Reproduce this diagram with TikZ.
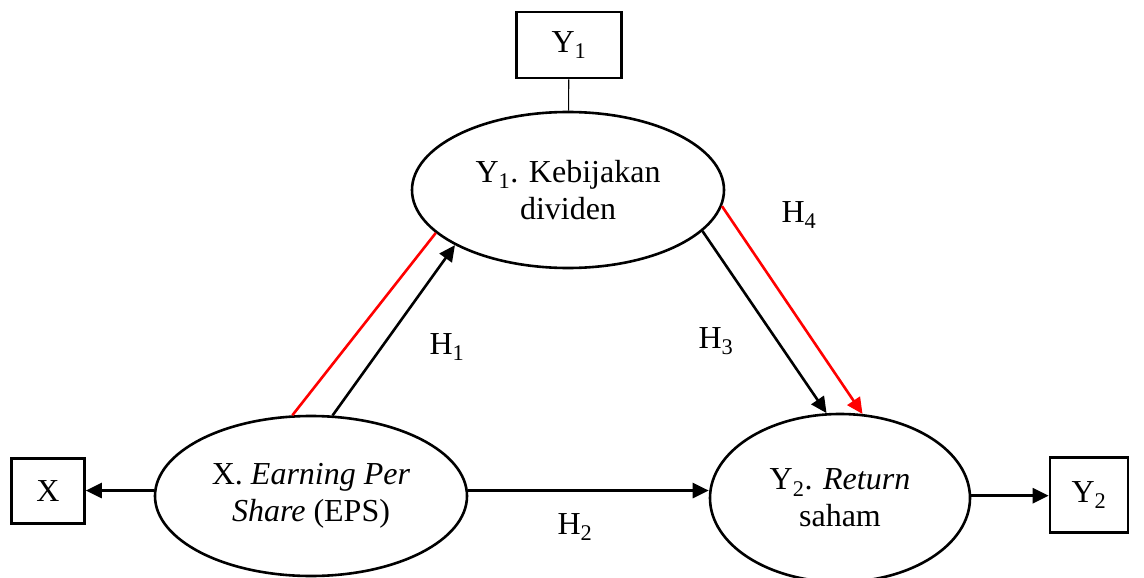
\documentclass[tikz,border=0pt]{standalone}
\usepackage{fontspec}
\setmainfont{Liberation Serif}
\usetikzlibrary{positioning, arrows.meta, shapes.geometric}

\begin{document}
\begin{tikzpicture}[x=1pt, y=-1pt, line width=2.6pt,
    >={Triangle[length=16pt, width=15pt]},
    every node/.style={font=\fontsize{32}{37}\selectfont},
    latent/.style={ellipse, draw, align=center, inner sep=0pt, minimum width=312pt, minimum height=160pt},
    indicator/.style={rectangle, draw, inner sep=0pt}]
   \useasboundingbox (0,0) rectangle (1144,578);

   % Variables
   \node[latent] (eps) at (311,496) {X. \textit{Earning Per}\\\textit{Share} (EPS)};
   \node[latent, minimum height=156pt] (div) at (568,190) {Y\textsubscript{1}. Kebijakan\\dividen};
   \node[latent, minimum width=260pt, minimum height=168pt] (ret) at (840,498) {Y\textsubscript{2}. \textit{Return}\\saham};

   % Indicators
   \node[indicator, minimum width=73pt, minimum height=65pt] (xbox) at (48,491) {X};
   \node[indicator, minimum width=105pt, minimum height=66pt] (y1box) at (569,45) {Y\textsubscript{1}};
   \node[indicator, minimum width=78pt, minimum height=75pt] (y2box) at (1089,495) {Y\textsubscript{2}};

   % Hypotheses
   \node (h1) at (447,347) {H\textsubscript{1}};
   \node (h2) at (575,527) {H\textsubscript{2}};
   \node (h3) at (716,341) {H\textsubscript{3}};
   \node (h4) at (799,215) {H\textsubscript{4}};

   % Paths
   \draw[line width=1.1pt] (y1box) -- (div);
   \draw[->] (eps.178) -- (xbox.east |- eps.178);
   \draw[->] (eps.2) -- (ret.west |- eps.2);
   \draw[->] (ret.1) -- (y2box.west |- ret.1);
   \draw[->] (eps.75) -- (div.206);
   \draw[red] (eps.103) -- (div.198);
   \draw[->] (div.-17) -- (ret.99);
   \draw[->, red] (div.-6) -- (ret.75);
\end{tikzpicture}
\end{document}
